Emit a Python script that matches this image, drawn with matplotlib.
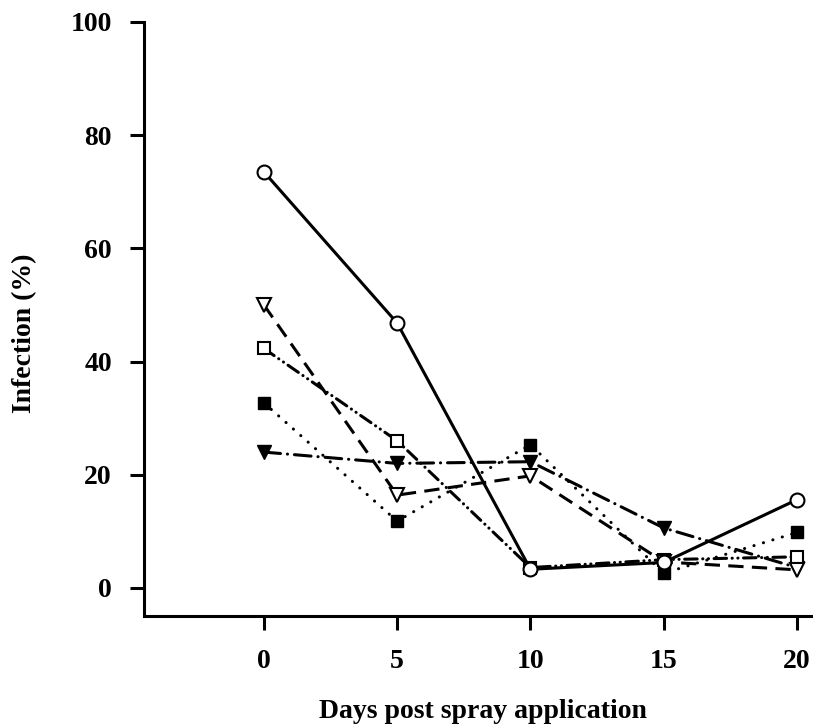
import matplotlib
matplotlib.use("Agg")
import matplotlib.pyplot as plt

days = [0, 5, 10, 15, 20]

# infection (%) for each treatment
open_circle = [73.5, 46.8, 3.3, 4.5, 15.6]
open_triangle = [50.0, 16.4, 19.8, 4.6, 3.2]
open_square = [42.3, 26.0, 3.6, 5.0, 5.5]
filled_square = [32.7, 11.8, 25.3, 2.6, 9.8]
filled_triangle = [24.0, 22.0, 22.3, 10.6, 3.6]

y_ticks = [0, 20, 40, 60, 80, 100]

plt.rcParams['font.family'] = ['Liberation Serif', 'DejaVu Serif']
plt.rcParams['font.weight'] = 'bold'
plt.rcParams['lines.scale_dashes'] = False

W, H = 813, 727
fig = plt.figure(figsize=(W / 100, H / 100), dpi=100)
ax = fig.add_axes([0.177, 0.1527, 0.823, 0.8173])

lw = 2.2
ax.plot(days, filled_square, color="black", lw=lw, linestyle=(0, (0.1, 7)),
        dash_capstyle="round", marker="s", markersize=9,
        markerfacecolor="black", markeredgecolor="black")
ax.plot(days, filled_triangle, color="black", lw=lw, linestyle=(0, (12, 5, 0.1, 5)),
        dash_capstyle="round", marker="v", markersize=10,
        markerfacecolor="black", markeredgecolor="black")
ax.plot(days, open_square, color="black", lw=lw, linestyle=(0, (9, 4, 0.1, 4, 0.1, 4)),
        dash_capstyle="round", marker="s", markersize=9,
        markerfacecolor="white", markeredgecolor="black", markeredgewidth=1.5)
ax.plot(days, open_triangle, color="black", lw=lw, linestyle=(0, (11, 6)),
        marker="v", markersize=10,
        markerfacecolor="white", markeredgecolor="black", markeredgewidth=1.5)
ax.plot(days, open_circle, color="black", lw=lw, linestyle="-",
        marker="o", markersize=10,
        markerfacecolor="white", markeredgecolor="black", markeredgewidth=1.5)

ax.set_xlim(-4.5, 20.6)
ax.set_ylim(-4.95, 100)
ax.set_xticks(days)
ax.set_yticks(y_ticks)

ax.spines['top'].set_visible(False)
ax.spines['right'].set_visible(False)
ax.spines['left'].set_linewidth(2.2)
ax.spines['bottom'].set_linewidth(2.2)

ax.tick_params(axis='both', direction='out', length=10, width=2.2,
               labelsize=20, pad=13)
ax.tick_params(axis='x', pad=14)

# axis titles placed in figure pixels
fig.text(483 / W, 1 - 711 / H, "Days post spray application", fontsize=20,
         fontweight="bold", ha="center", va="center")
fig.text(25 / W, 1 - 333 / H, "Infection (%)", fontsize=20, fontweight="bold",
         ha="center", va="center", rotation=90)

fig.savefig("out.png", dpi=100)
